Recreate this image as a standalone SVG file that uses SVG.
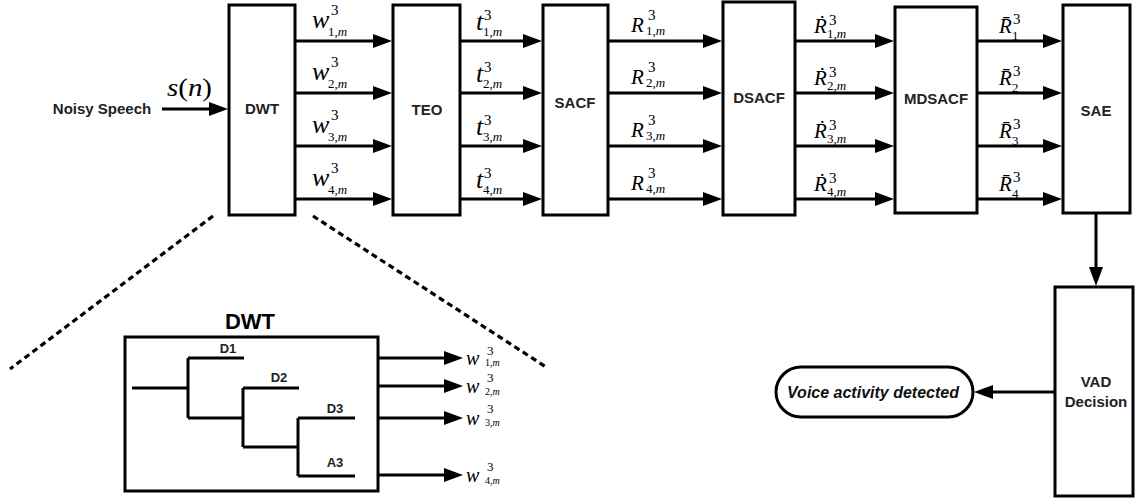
<svg xmlns="http://www.w3.org/2000/svg" width="1135" height="499" viewBox="0 0 1135 499">
<defs>
<marker id="ah" viewBox="0 0 19 14" markerWidth="19" markerHeight="14" markerUnits="userSpaceOnUse" refX="8" refY="7" orient="auto">
<path d="M0,0 L19,7 L0,14 z" fill="#000"/>
</marker>
<style>
.box{fill:#fff;stroke:#000;stroke-width:3}
.ln{fill:none;stroke:#000;stroke-width:3}
.ar{fill:none;stroke:#000;stroke-width:3;marker-end:url(#ah)}
.dash{fill:none;stroke:#000;stroke-width:3.2;stroke-dasharray:6 4}
.lbl{font-family:"Liberation Sans",Arial,sans-serif;font-weight:bold;font-size:15px;fill:#222;text-anchor:middle}
.sm{font-size:13px}
.ttl{font-size:22px;fill:#000}
.pill{font-family:"Liberation Sans",Arial,sans-serif;font-weight:bold;font-style:italic;font-size:16px;fill:#111;text-anchor:middle}
.mv{font-family:"Liberation Serif","DejaVu Serif","Times New Roman",serif;font-style:italic;font-size:26px;fill:#000}
.mr{font-family:"Liberation Serif","DejaVu Serif","Times New Roman",serif;font-style:italic;font-size:21px;fill:#000}
.iv{font-family:"Liberation Serif","DejaVu Serif","Times New Roman",serif;font-style:italic;font-size:20px;fill:#000}
.sup{font-size:15px;font-style:normal}
.sub{font-size:13px;font-style:normal}
.isup{font-size:13px;font-style:normal}
.isub{font-size:10px;font-style:normal}
.it{font-style:italic}
</style>
</defs>

<g id="connectors">
<line class="ar" x1="162" y1="109" x2="217" y2="109"/>
<line class="ar" x1="296" y1="41" x2="381" y2="41"/>
<line class="ar" x1="296" y1="93" x2="381" y2="93"/>
<line class="ar" x1="296" y1="146" x2="381" y2="146"/>
<line class="ar" x1="296" y1="199" x2="381" y2="199"/>
<line class="ar" x1="461" y1="41" x2="531" y2="41"/>
<line class="ar" x1="461" y1="93" x2="531" y2="93"/>
<line class="ar" x1="461" y1="146" x2="531" y2="146"/>
<line class="ar" x1="461" y1="199" x2="531" y2="199"/>
<line class="ar" x1="609" y1="41" x2="711" y2="41"/>
<line class="ar" x1="609" y1="93" x2="711" y2="93"/>
<line class="ar" x1="609" y1="146" x2="711" y2="146"/>
<line class="ar" x1="609" y1="199" x2="711" y2="199"/>
<line class="ar" x1="796" y1="41" x2="883" y2="41"/>
<line class="ar" x1="796" y1="93" x2="883" y2="93"/>
<line class="ar" x1="796" y1="146" x2="883" y2="146"/>
<line class="ar" x1="796" y1="199" x2="883" y2="199"/>
<line class="ar" x1="978" y1="41" x2="1051" y2="41"/>
<line class="ar" x1="978" y1="93" x2="1051" y2="93"/>
<line class="ar" x1="978" y1="146" x2="1051" y2="146"/>
<line class="ar" x1="978" y1="199" x2="1051" y2="199"/>
<line class="ar" x1="1096" y1="214" x2="1096" y2="275"/>
<line class="ar" x1="1054" y1="392" x2="985" y2="392"/>
<line class="dash" x1="213" y1="216" x2="10" y2="369"/>
<line class="dash" x1="313" y1="216" x2="546" y2="367"/>
<line class="ar" x1="379" y1="358" x2="452" y2="358"/>
<line class="ar" x1="379" y1="386" x2="452" y2="386"/>
<line class="ar" x1="379" y1="418" x2="452" y2="418"/>
<line class="ar" x1="379" y1="475" x2="452" y2="475"/>
</g>

<g id="input">
<text class="lbl" x="102" y="114">Noisy Speech</text>
<text x="167" y="96" font-family="Liberation Serif,serif" font-size="26" textLength="45" lengthAdjust="spacingAndGlyphs"><tspan font-style="italic">s</tspan>(<tspan font-style="italic">n</tspan>)</text>
</g>

<g id="dwt"><rect class="box" x="229" y="5" width="66" height="210"/><text class="lbl" x="262" y="114">DWT</text></g>
<g id="teo"><rect class="box" x="393" y="5" width="67" height="210"/><text class="lbl" x="427" y="115">TEO</text></g>
<g id="sacf"><rect class="box" x="543" y="5" width="65" height="210"/><text class="lbl" x="575" y="108">SACF</text></g>
<g id="dsacf"><rect class="box" x="723" y="2" width="72" height="213"/><text class="lbl" x="759" y="103">DSACF</text></g>
<g id="mdsacf"><rect class="box" x="895" y="7" width="82" height="206"/><text class="lbl" x="936" y="104">MDSACF</text></g>
<g id="sae"><rect class="box" x="1063" y="5" width="67" height="208"/><text class="lbl" x="1096" y="116">SAE</text></g>
<g id="vad"><rect class="box" x="1055" y="287" width="78" height="209"/><text class="lbl" x="1096" y="387">VAD</text><text class="lbl" x="1096" y="407">Decision</text></g>
<g id="voice"><rect class="box" x="776" y="367" width="197" height="50" rx="25"/><text class="pill" x="873" y="398">Voice activity detected</text></g>

<g id="labels-w">
<text class="mv" x="312" y="28">w<tspan class="sup" x="331" y="15">3</tspan><tspan class="sub" x="328" y="36">1,<tspan class="it">m</tspan></tspan></text>
<text class="mv" x="312" y="80">w<tspan class="sup" x="331" y="67">3</tspan><tspan class="sub" x="328" y="88">2,<tspan class="it">m</tspan></tspan></text>
<text class="mv" x="312" y="133">w<tspan class="sup" x="331" y="120">3</tspan><tspan class="sub" x="328" y="141">3,<tspan class="it">m</tspan></tspan></text>
<text class="mv" x="312" y="186">w<tspan class="sup" x="331" y="173">3</tspan><tspan class="sub" x="328" y="194">4,<tspan class="it">m</tspan></tspan></text>
</g>
<g id="labels-t">
<text class="mv" x="476" y="30">t<tspan class="sup" x="484" y="20">3</tspan><tspan class="sub" x="483" y="36">1,<tspan class="it">m</tspan></tspan></text>
<text class="mv" x="476" y="82">t<tspan class="sup" x="484" y="72">3</tspan><tspan class="sub" x="483" y="88">2,<tspan class="it">m</tspan></tspan></text>
<text class="mv" x="476" y="135">t<tspan class="sup" x="484" y="125">3</tspan><tspan class="sub" x="483" y="141">3,<tspan class="it">m</tspan></tspan></text>
<text class="mv" x="476" y="188">t<tspan class="sup" x="484" y="178">3</tspan><tspan class="sub" x="483" y="194">4,<tspan class="it">m</tspan></tspan></text>
</g>
<g id="labels-r">
<text class="mr" x="631" y="32">R<tspan class="sup" x="648" y="20">3</tspan><tspan class="sub" x="646" y="35">1,<tspan class="it">m</tspan></tspan></text>
<text class="mr" x="631" y="84">R<tspan class="sup" x="648" y="72">3</tspan><tspan class="sub" x="646" y="87">2,<tspan class="it">m</tspan></tspan></text>
<text class="mr" x="631" y="137">R<tspan class="sup" x="648" y="125">3</tspan><tspan class="sub" x="646" y="140">3,<tspan class="it">m</tspan></tspan></text>
<text class="mr" x="631" y="190">R<tspan class="sup" x="648" y="178">3</tspan><tspan class="sub" x="646" y="193">4,<tspan class="it">m</tspan></tspan></text>
</g>
<g id="labels-rdot">
<text class="mr" x="814" y="33">Ṙ<tspan class="sup" x="829" y="25">3</tspan><tspan class="sub" x="827" y="38">1,<tspan class="it">m</tspan></tspan></text>
<text class="mr" x="814" y="85">Ṙ<tspan class="sup" x="829" y="77">3</tspan><tspan class="sub" x="827" y="90">2,<tspan class="it">m</tspan></tspan></text>
<text class="mr" x="814" y="138">Ṙ<tspan class="sup" x="829" y="130">3</tspan><tspan class="sub" x="827" y="143">3,<tspan class="it">m</tspan></tspan></text>
<text class="mr" x="814" y="191">Ṙ<tspan class="sup" x="829" y="183">3</tspan><tspan class="sub" x="827" y="196">4,<tspan class="it">m</tspan></tspan></text>
</g>
<g id="labels-rbar">
<text class="mr" x="999" y="33">R̄<tspan class="sup" x="1013" y="24">3</tspan><tspan class="sub" x="1012" y="40">1</tspan></text>
<text class="mr" x="999" y="85">R̄<tspan class="sup" x="1013" y="76">3</tspan><tspan class="sub" x="1012" y="92">2</tspan></text>
<text class="mr" x="999" y="138">R̄<tspan class="sup" x="1013" y="129">3</tspan><tspan class="sub" x="1012" y="145">3</tspan></text>
<text class="mr" x="999" y="191">R̄<tspan class="sup" x="1013" y="182">3</tspan><tspan class="sub" x="1012" y="198">4</tspan></text>
</g>

<g id="dwt-detail">
<text class="lbl ttl" x="250" y="329">DWT</text>
<rect class="box" x="125" y="337" width="253" height="154"/>
<path class="ln" d="M132,388 H188 M188,358 V418 M188,358 H244 M188,418 H243 M243,388 V447 M243,388 H299 M243,447 H298 M298,418 V476 M298,418 H355 M298,476 H355"/>
<text class="lbl sm" x="228" y="353">D1</text>
<text class="lbl sm" x="279" y="382">D2</text>
<text class="lbl sm" x="335" y="413">D3</text>
<text class="lbl sm" x="335" y="467">A3</text>
<text class="iv" x="466" y="365">w<tspan class="isup" x="487" y="355">3</tspan><tspan class="isub" x="485" y="366">1,<tspan class="it">m</tspan></tspan></text>
<text class="iv" x="466" y="393">w<tspan class="isup" x="487" y="382">3</tspan><tspan class="isub" x="485" y="395">2,<tspan class="it">m</tspan></tspan></text>
<text class="iv" x="466" y="425">w<tspan class="isup" x="487" y="413">3</tspan><tspan class="isub" x="485" y="426">3,<tspan class="it">m</tspan></tspan></text>
<text class="iv" x="466" y="482">w<tspan class="isup" x="487" y="471">3</tspan><tspan class="isub" x="485" y="484">4,<tspan class="it">m</tspan></tspan></text>
</g>
</svg>
